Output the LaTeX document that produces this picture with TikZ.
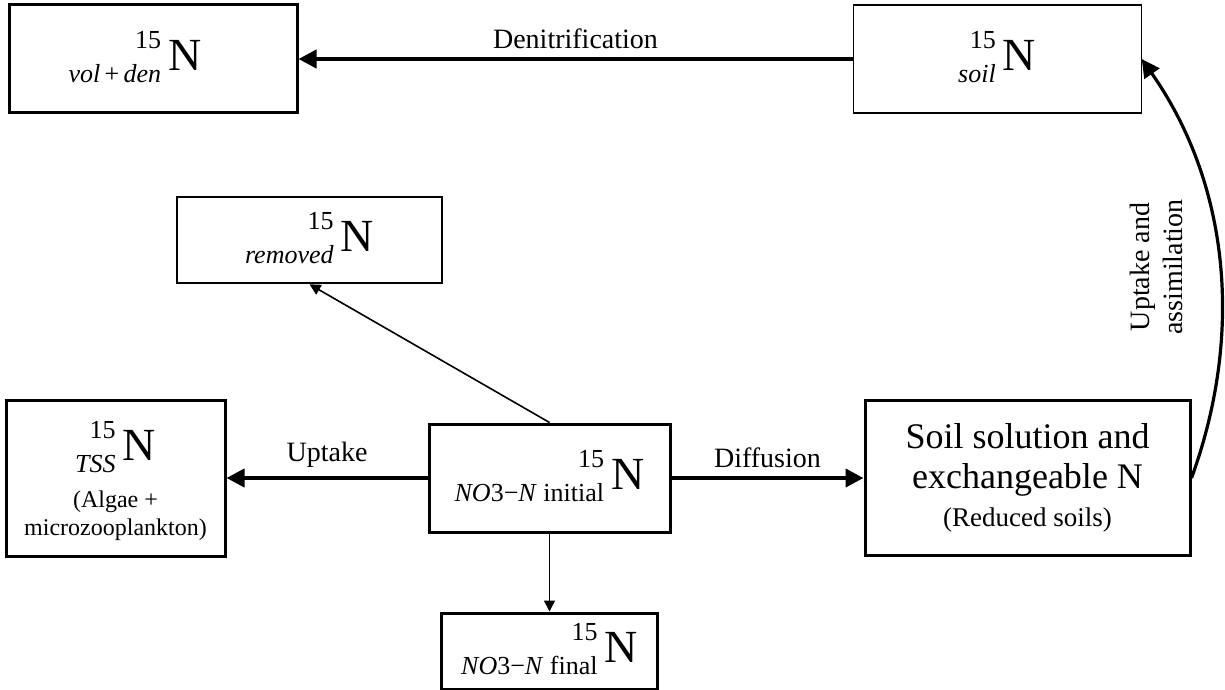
\documentclass[tikz,border=0pt]{standalone}
\usepackage{fontspec}
\setmainfont{Liberation Serif}
\usetikzlibrary{arrows.meta,positioning}
\newcommand{\isoN}[1]{\raisebox{-6pt}{\fontsize{13}{17}\selectfont\begin{tabular}[b]{@{}r@{}}15\\#1\end{tabular}}\hspace{3.5pt}{\fontsize{23}{26}\selectfont N}}
\newcommand{\nothree}{\textit{NO\/}3−\textit{N}}
\tikzset{
  pool/.style={
    draw,
    line width=1.5pt,
    inner sep=2pt,
    align=center
  },
  thinpool/.style={
    pool,
    line width=0.6pt
  },
  flow/.style={-{Triangle[length=9pt,width=9pt]}, line width=2pt},
  thinflow/.style={-{Triangle[length=5.5pt,width=5.5pt]}, line width=0.8pt},
  lbl/.style={font=\fontsize{14}{16.5}\selectfont}
}
\begin{document}
\begin{tikzpicture}[x=0.5pt, y=-0.5pt]
  \useasboundingbox (0,0) rectangle (1225,690);

  \node[pool, minimum width=144pt, minimum height=54pt] (volden) at (153,59) {\isoN{\textit{vol}\,+\,\textit{den}}\hspace*{18pt}};
  \node[thinpool, minimum width=144pt, minimum height=54pt, right=277pt of volden] (soil) {\isoN{\textit{soil}}};
  \node[pool, line width=1.3pt, minimum width=132.5pt, minimum height=43pt] (removed) at (309.5,240) {\isoN{\textit{removed}}};

  \node[pool, minimum width=120.5pt, minimum height=54pt] (init) at (549.5,478) {\isoN{\nothree{} initial}};
  \node[pool, font=\fontsize{12}{14}\selectfont, minimum width=109.5pt, minimum height=78pt, left=100.5pt of init] (tss) {\isoN{\textit{TSS}}\\[3pt](Algae +\\microzooplankton)};
  \node[pool, font=\fontsize{18}{20}\selectfont, minimum width=162.5pt, minimum height=77.5pt, right=96pt of init] (soilsol) {Soil solution and\\exchangeable N\\[-1pt]{\fontsize{13.5}{16}\selectfont (Reduced soils)}};
  \node[pool, minimum width=108pt, minimum height=35.5pt, below=39pt of init] (final) {\isoN{\nothree{} final}};

  \node[lbl, rotate=90, align=center] (uplabel) at (1156,267) {Uptake and\\assimilation};

  \draw[flow] (soil.west) -- node[lbl, above=1pt] {Denitrification} (volden.east);
  \draw[flow] (init.west) -- node[lbl, above=1pt] {Uptake} (tss.east);
  \draw[flow] (init.east) -- node[lbl, above=1pt] {Diffusion} (soilsol.west);
  \draw[thinflow] (init.north) -- (removed.south);
  \draw[thinflow] (init.south) -- (final.north);
  \draw[flow, line width=1.6pt] (soilsol.east) to[out=70, in=-55, looseness=0.93] (soil.east);
\end{tikzpicture}
\end{document}
